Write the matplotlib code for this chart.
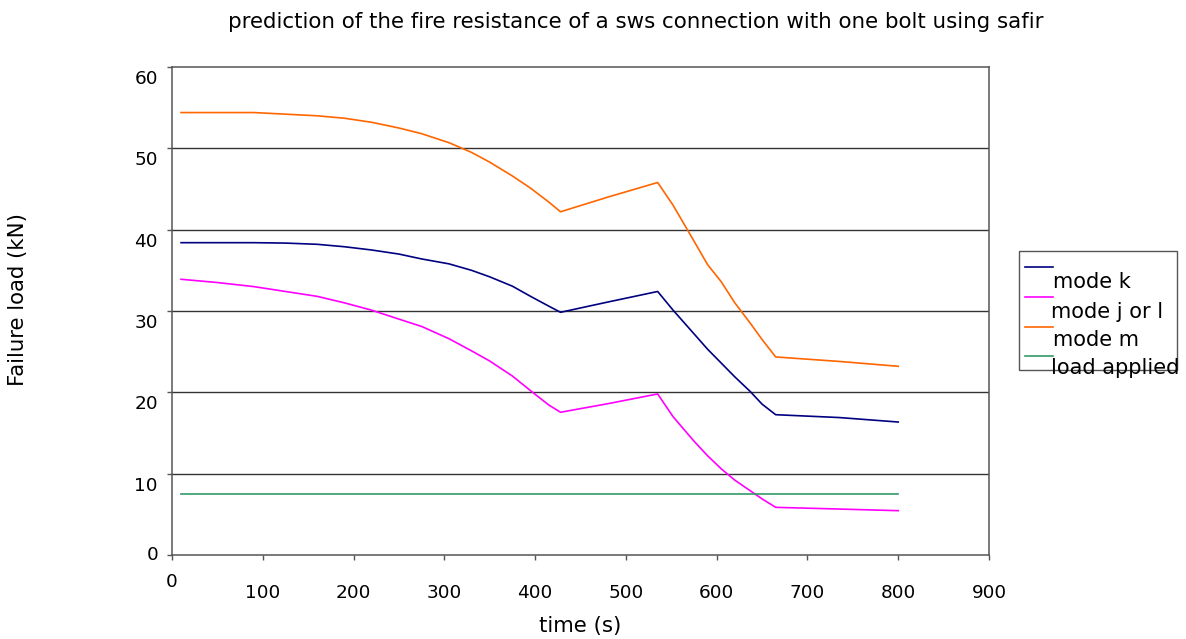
import matplotlib
matplotlib.use("Agg")
import matplotlib.pyplot as plt
from matplotlib.lines import Line2D
from matplotlib.patches import Rectangle
from matplotlib.transforms import offset_copy

# data
time = [10, 50, 90, 125, 160, 190, 220, 250, 275, 305, 330, 350, 375, 395, 415, 428,
        480, 535, 552, 575, 590, 605, 620, 637, 650, 665, 735, 800]
mode_k = [38.4, 38.4, 38.4, 38.35, 38.2, 37.9, 37.5, 37.0, 36.4, 35.8, 35.0, 34.2, 33.05,
          31.8, 30.6, 29.84, 31.1, 32.4, 30.1, 27.2, 25.3, 23.6, 21.9, 20.1, 18.55, 17.25,
          16.9, 16.35]
mode_jl = [33.9, 33.5, 33.0, 32.4, 31.8, 31.0, 30.1, 29.0, 28.1, 26.6, 25.1, 23.85, 22.0,
           20.2, 18.45, 17.55, 18.6, 19.8, 17.0, 14.0, 12.2, 10.6, 9.2, 7.9, 6.9, 5.86,
           5.65, 5.45]
mode_m = [54.4, 54.4, 54.4, 54.2, 54.0, 53.7, 53.2, 52.5, 51.8, 50.7, 49.5, 48.3, 46.6,
          45.1, 43.4, 42.2, 44.0, 45.8, 43.0, 38.6, 35.7, 33.6, 31.0, 28.5, 26.5, 24.35,
          23.8, 23.2]
load_time = [10, 800]
load_applied = [7.5, 7.5]

labels = ["mode k", "mode j or l", "mode m", "load applied"]
colors = ["#000080", "#FF00FF", "#FF6600", "#339966"]

xticks = [0, 100, 200, 300, 400, 500, 600, 700, 800, 900]
yticks = [0, 10, 20, 30, 40, 50, 60]

W, H = 1186, 639
fig = plt.figure(figsize=(W / 100, H / 100), dpi=100)
ax = fig.add_axes([172 / W, 1 - 555 / H, (989 - 172) / W, (555 - 67) / H])

ax.plot(time, mode_k, color=colors[0], lw=1.2)
ax.plot(time, mode_jl, color=colors[1], lw=1.2)
ax.plot(time, mode_m, color=colors[2], lw=1.2)
ax.plot(load_time, load_applied, color=colors[3], lw=1.2)

ax.set_xlim(0, 900)
ax.set_ylim(0, 60)
ax.set_xticks(xticks)
ax.set_yticks(yticks)
ax.tick_params(labelbottom=False, labelleft=False, length=3.6, width=1, color="#555555")
for y in yticks[1:-1]:
    ax.axhline(y, color="#333333", lw=1.0, zorder=0)
for s in ax.spines.values():
    s.set_color("#555555")
    s.set_linewidth(1.1)

fs_tick = 13.3
fs = 15.3
# tick labels, shifted the way the original renders them
for v in xticks:
    dy = -27 if v == 0 else -38
    tr = offset_copy(ax.get_xaxis_transform(), fig=fig, x=0, y=dy, units="dots")
    ax.text(v, 0, str(v), transform=tr, ha="center", va="center", fontsize=fs_tick)
for v in yticks:
    dy = 0 if v == 0 else -12
    tr = offset_copy(ax.get_yaxis_transform(), fig=fig, x=-14, y=dy, units="dots")
    ax.text(0, v, str(v), transform=tr, ha="right", va="center", fontsize=fs_tick)

fig.text(636 / W, 1 - 22 / H, "prediction of the fire resistance of a sws connection with one bolt using safir",
         ha="center", va="center", fontsize=15.4)
fig.text(580 / W, 1 - 626 / H, "time (s)", ha="center", va="center", fontsize=fs)
fig.text(18 / W, 1 - 300 / H, "Failure load (kN)", ha="center", va="center", rotation=90, fontsize=fs)

# legend box, lines sitting above their labels like the original
fig.add_artist(Rectangle((1019 / W, 1 - 370 / H), (1177 - 1019) / W, (370 - 251) / H,
                         transform=fig.transFigure, fill=False, edgecolor="#555555", lw=1))
line_y = [267, 297, 327, 356]
text_y = [282, 312, 340, 368]
text_x = [1053, 1051, 1053, 1051]
for i in range(4):
    fig.add_artist(Line2D([1025 / W, 1053 / W], [1 - line_y[i] / H] * 2,
                          transform=fig.transFigure, color=colors[i], lw=1.2))
    fig.text(text_x[i] / W, 1 - text_y[i] / H, labels[i], ha="left", va="center", fontsize=15)

fig.savefig("out.png", dpi=100)
